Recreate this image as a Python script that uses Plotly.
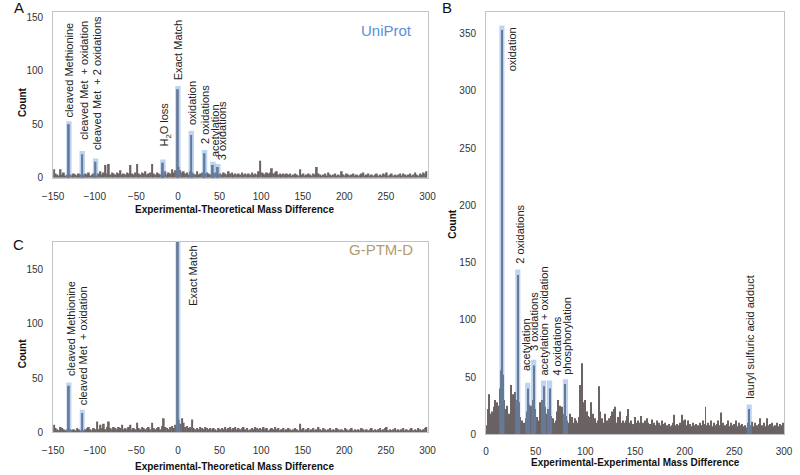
import plotly.graph_objects as go

# ---------------------------------------------------------------------------
# Panel A - UniProt, experimental-theoretical mass difference (2 Da bins)
# ---------------------------------------------------------------------------
A_BINS = list(range(-149, 300, 2))
A_NOISE = [
    8, 4, 3, 2, 8, 3, 5, 2, 3, 2, 3, 2, 4, 3, 2, 4, 3, 2, 3, 4,
    3, 5, 2, 3, 4, 3, 2, 4, 6, 3, 5, 12, 4, 13, 3, 5, 4, 3, 5, 4,
    7, 3, 4, 3, 5, 4, 12, 4, 3, 5, 13, 4, 3, 5, 4, 6, 3, 4, 5, 13,
    4, 3, 5, 4, 3, 5, 4, 6, 3, 5, 4, 8, 5, 7, 6, 10, 7, 5, 6, 4,
    5, 3, 6, 5, 4, 3, 6, 3, 4, 5, 3, 4, 5, 4, 3, 5, 4, 5, 4, 3,
    4, 3, 5, 4, 3, 6, 4, 5, 3, 4, 3, 4, 3, 5, 3, 4, 3, 4, 3, 5,
    3, 4, 3, 6, 16, 5, 4, 3, 5, 4, 5, 9, 4, 5, 6, 3, 4, 3, 4, 3,
    4, 3, 4, 2, 3, 4, 3, 2, 8, 3, 4, 2, 3, 4, 3, 2, 4, 3, 10, 4,
    3, 2, 3, 4, 2, 5, 3, 2, 3, 4, 2, 3, 2, 6, 3, 2, 4, 3, 2, 3,
    4, 2, 3, 2, 3, 4, 5, 2, 3, 4, 2, 3, 2, 3, 4, 2, 3, 2, 4, 3,
    5, 2, 3, 4, 2, 3, 2, 3, 4, 2, 4, 3, 2, 3, 4, 2, 3, 5, 3, 2,
    4, 3, 5, 4, 6,
]
A_PEAK_X = [-131, -115, -99, -18, 0, 16, 32, 42, 48]
A_PEAK_COUNTS = [50, 22, 15, 14, 83, 40, 23, 12, 10]
A_PEAK_MARKS = [53, 25, 18, 17, 86, 44, 26, 15, 13]
A_LABELS = [
    "cleaved Methionine", "cleaved Met  + oxidation",
    "cleaved Met  + 2 oxidations", "H<sub>2</sub>O loss", "Exact Match",
    "oxidation", "2 oxidations", "acetylation", "3 oxidations",
]

# ---------------------------------------------------------------------------
# Panel B - experimental-experimental mass difference (1 Da bins)
# ---------------------------------------------------------------------------
B_BINS = list(range(0, 300))
B_NOISE = [
    4, 8, 22, 35, 18, 12, 20, 15, 24, 30,
    26, 28, 14, 25, 40, 56, 30, 52, 30, 22,
    12, 25, 8, 18, 14, 43, 20, 35, 10, 37,
    22, 30, 28, 28, 15, 9, 12, 6, 10, 8,
    14, 20, 22, 26, 18, 25, 12, 30, 25, 22,
    8, 15, 10, 12, 28, 18, 30, 20, 20, 24,
    12, 18, 22, 10, 18, 16, 8, 14, 10, 6,
    12, 20, 30, 24, 23, 25, 22, 24, 18, 10,
    14, 16, 12, 8, 10, 18, 12, 15, 10, 8,
    14, 12, 10, 8, 15, 43, 20, 62, 28, 14,
    30, 12, 20, 16, 10, 15, 28, 10, 18, 12,
    14, 10, 8, 12, 42, 20, 12, 14, 10, 8,
    18, 10, 12, 8, 14, 10, 16, 20, 12, 22,
    24, 10, 8, 15, 12, 20, 10, 8, 12, 6,
    10, 12, 16, 22, 8, 10, 12, 6, 9, 8,
    15, 10, 8, 12, 6, 10, 16, 8, 10, 6,
    12, 8, 14, 10, 6, 9, 7, 13, 8, 10,
    6, 8, 12, 7, 10, 6, 8, 12, 6, 9,
    10, 6, 8, 5, 9, 7, 6, 8, 10, 17,
    8, 6, 9, 5, 8, 10, 6, 17, 12, 8,
    13, 6, 8, 12, 5, 9, 7, 6, 10, 8,
    6, 9, 5, 8, 7, 10, 6, 8, 12, 7,
    9, 24, 8, 6, 10, 5, 8, 12, 7, 6,
    10, 8, 5, 9, 12, 6, 8, 19, 7, 10,
    6, 8, 5, 9, 12, 7, 6, 10, 5, 8,
    9, 6, 12, 7, 5, 10, 8, 6, 9, 5,
    7, 8, 6, 5, 10, 7, 6, 8, 11, 5,
    7, 10, 6, 8, 5, 9, 14, 6, 8, 5,
    10, 7, 6, 14, 8, 5, 9, 6, 10, 7,
    5, 8, 6, 10, 7, 5, 9, 8, 6, 10,
]
B_PEAK_X = [16, 32, 42, 48, 58, 64, 80, 265]
B_PEAK_COUNTS = [353, 139, 40, 60, 42, 40, 44, 22]
B_PEAK_MARKS = [357, 144, 45, 65, 47, 47, 48, 26]
B_LABELS = [
    "oxidation", "2 oxidations", "acetylation", "3 oxidations",
    "acetylation + oxidation", "4 oxidations", "phosphorylation",
    "lauryl sulfuric acid adduct",
]

# ---------------------------------------------------------------------------
# Panel C - G-PTM-D, experimental-theoretical mass difference (2 Da bins)
# ---------------------------------------------------------------------------
C_BINS = list(range(-149, 300, 2))
C_NOISE = [
    7, 4, 3, 2, 5, 4, 3, 2, 3, 2, 3, 2, 3, 2, 4, 3, 2, 3, 2, 3,
    4, 5, 3, 2, 4, 3, 10, 3, 7, 4, 8, 3, 5, 10, 4, 3, 5, 4, 3, 5,
    4, 7, 3, 4, 3, 5, 7, 3, 4, 3, 9, 4, 3, 5, 4, 3, 4, 5, 3, 9,
    4, 3, 4, 5, 3, 6, 13, 5, 4, 3, 5, 6, 4, 7, 5, 12, 8, 13, 9, 5,
    6, 4, 5, 12, 4, 3, 4, 3, 5, 4, 3, 5, 4, 3, 4, 3, 4, 3, 2, 4,
    3, 4, 3, 5, 3, 4, 5, 3, 4, 5, 3, 4, 3, 4, 5, 3, 4, 2, 3, 4,
    3, 5, 4, 3, 4, 3, 5, 3, 4, 2, 3, 4, 3, 5, 3, 4, 2, 3, 4, 2,
    3, 4, 3, 2, 3, 4, 3, 2, 8, 3, 4, 2, 3, 4, 2, 3, 4, 2, 3, 5,
    3, 2, 4, 3, 2, 3, 4, 2, 3, 2, 4, 3, 2, 3, 2, 4, 3, 2, 3, 4,
    2, 3, 2, 3, 2, 4, 3, 2, 3, 2, 3, 4, 2, 3, 2, 3, 4, 2, 3, 4,
    5, 2, 3, 2, 3, 4, 2, 3, 2, 3, 4, 2, 3, 2, 3, 4, 2, 3, 2, 4,
    3, 2, 3, 4, 5,
]
C_PEAK_X = [-131, -115, 0]
C_PEAK_COUNTS = [43, 18, 178]
C_PEAK_MARKS = [46, 21, 181]
C_LABELS = ["cleaved Methionine", "cleaved Met  + oxidation", "Exact Match"]

# ---------------------------------------------------------------------------
# Styling
# ---------------------------------------------------------------------------
FONT = "Liberation Sans, Arial, sans-serif"
GRAY = "#6b6262"
MARK = "rgba(96, 152, 222, 0.42)"
FRAME = "#c4c4c4"
TICK_COLOR = "#333333"

# label offsets in px: (xshift, yshift, yanchor)
A_OFFSETS = [(0, 2, "bottom"), (1, 9, "bottom"), (1, 6, "bottom"),
             (2, 11, "bottom"), (1, 4, "bottom"), (1, 4, "bottom"),
             (1, 4, "bottom"), (2, 3, "bottom"), (5, 2, "bottom")]
B_OFFSETS = [(11, 0, "top"), (2, 4, "bottom"), (-1, 10, "bottom"),
             (1, 7, "bottom"), (0, 3, "bottom"), (7, 3, "bottom"),
             (2, 3, "bottom"), (0, 4, "bottom")]
C_OFFSETS = [(2, 5, "bottom"), (1, 2, "bottom"), (15, 0, "top")]


def add_histogram(fig, xa, ya, bins, noise, bin_width, peak_x, peak_counts, peak_marks, mark_width):
    """Gray histogram with the annotated peaks highlighted in blue."""
    fig.add_trace(go.Bar(x=bins, y=noise, width=bin_width, marker_color=GRAY,
                         marker_line_width=0, xaxis=xa, yaxis=ya))
    fig.add_trace(go.Bar(x=peak_x, y=peak_counts, width=bin_width, marker_color=GRAY,
                         marker_line_width=0, xaxis=xa, yaxis=ya))
    fig.add_trace(go.Bar(x=peak_x, y=peak_marks, width=mark_width, marker_color=MARK,
                         marker_line_width=0, xaxis=xa, yaxis=ya))


def add_peak_labels(fig, xa, ya, peak_x, peak_marks, labels, offsets, y_max):
    """Rotated labels sitting above (or beside) each highlighted peak."""
    for x, top, text, (dx, dy, anchor) in zip(peak_x, peak_marks, labels, offsets):
        fig.add_annotation(
            x=x, y=min(top, y_max - 0.5), xref=xa, yref=ya,
            text=text, textangle=-90, showarrow=False,
            xanchor="center", yanchor=anchor, xshift=dx, yshift=dy,
            font=dict(family=FONT, size=11, color="#222222"),
        )


def axis(domain, rng, dtick, anchor, standoff):
    return dict(
        domain=domain, range=rng, dtick=dtick, anchor=anchor,
        showline=True, mirror=True, linecolor=FRAME, linewidth=1,
        showgrid=False, zeroline=False, ticks="", ticklabelstandoff=standoff,
        tickfont=dict(family=FONT, size=10, color=TICK_COLOR),
        fixedrange=True,
    )


fig = go.Figure()

add_histogram(fig, "x", "y", A_BINS, A_NOISE, 2, A_PEAK_X, A_PEAK_COUNTS, A_PEAK_MARKS, 6.5)
add_histogram(fig, "x2", "y2", B_BINS, B_NOISE, 1, B_PEAK_X, B_PEAK_COUNTS, B_PEAK_MARKS, 5.2)
add_histogram(fig, "x3", "y3", C_BINS, C_NOISE, 2, C_PEAK_X, C_PEAK_COUNTS, C_PEAK_MARKS, 6.0)

A_YMAX, B_YMAX, C_YMAX = 155.5, 369, 175.5
add_peak_labels(fig, "x", "y", A_PEAK_X, A_PEAK_MARKS, A_LABELS, A_OFFSETS, A_YMAX)
add_peak_labels(fig, "x2", "y2", B_PEAK_X, B_PEAK_MARKS, B_LABELS, B_OFFSETS, B_YMAX)
add_peak_labels(fig, "x3", "y3", C_PEAK_X, C_PEAK_MARKS, C_LABELS, C_OFFSETS, C_YMAX)

# Axis titles, panel letters and database names
title_font = dict(family=FONT, size=10, color="#111111")
texts = [
    (0.286, 0.553, "<b>Experimental-Theoretical Mass Difference</b>", 0),
    (0.286, 0.005, "<b>Experimental-Theoretical Mass Difference</b>", 0),
    (0.801, 0.014, "<b>Experimental-Experimental Mass Difference</b>", 0),
    (0.015, 0.782, "<b>Count</b>", -90),
    (0.015, 0.246, "<b>Count</b>", -90),
    (0.566, 0.524, "<b>Count</b>", -90),
]
for x, y, text, angle in texts:
    fig.add_annotation(x=x, y=y, xref="paper", yref="paper", text=text,
                       textangle=angle, showarrow=False, font=title_font,
                       xanchor="center", yanchor="middle")

for x, y, letter in [(0.010, 0.983, "A"), (0.559, 0.983, "B"), (0.010, 0.478, "C")]:
    fig.add_annotation(x=x, y=y, xref="paper", yref="paper", text=letter,
                       showarrow=False, font=dict(family=FONT, size=15, color="#111111"),
                       xanchor="center", yanchor="middle")

fig.add_annotation(x=0.481, y=0.934, xref="paper", yref="paper", text="UniProt",
                   showarrow=False, font=dict(family=FONT, size=15, color="#5b8ed8"),
                   xanchor="center", yanchor="middle")
fig.add_annotation(x=0.474, y=0.467, xref="paper", yref="paper", text="G-PTM-D",
                   showarrow=False, font=dict(family=FONT, size=15, color="#b39b72"),
                   xanchor="center", yanchor="middle")

fig.update_layout(
    width=800, height=475,
    margin=dict(l=0, r=0, t=0, b=0),
    paper_bgcolor="white", plot_bgcolor="white",
    showlegend=False, barmode="overlay",
    xaxis=axis([0.054, 0.534], [-150, 300], 50, "y", 9),
    yaxis=axis([0.621, 0.975], [0, A_YMAX], 50, "x", 7),
    xaxis2=axis([0.609, 0.991], [0, 300], 50, "y2", 8),
    yaxis2=axis([0.074, 0.975], [0, B_YMAX], 50, "x2", 7),
    xaxis3=axis([0.054, 0.534], [-150, 300], 50, "y3", 9),
    yaxis3=axis([0.078, 0.484], [0, C_YMAX], 50, "x3", 7),
)

# the page body has a default 8px margin; drop it so the figure fills the window
fig.write_html("out.html", config={"displayModeBar": False},
               post_script="document.body.style.margin = '0';")
